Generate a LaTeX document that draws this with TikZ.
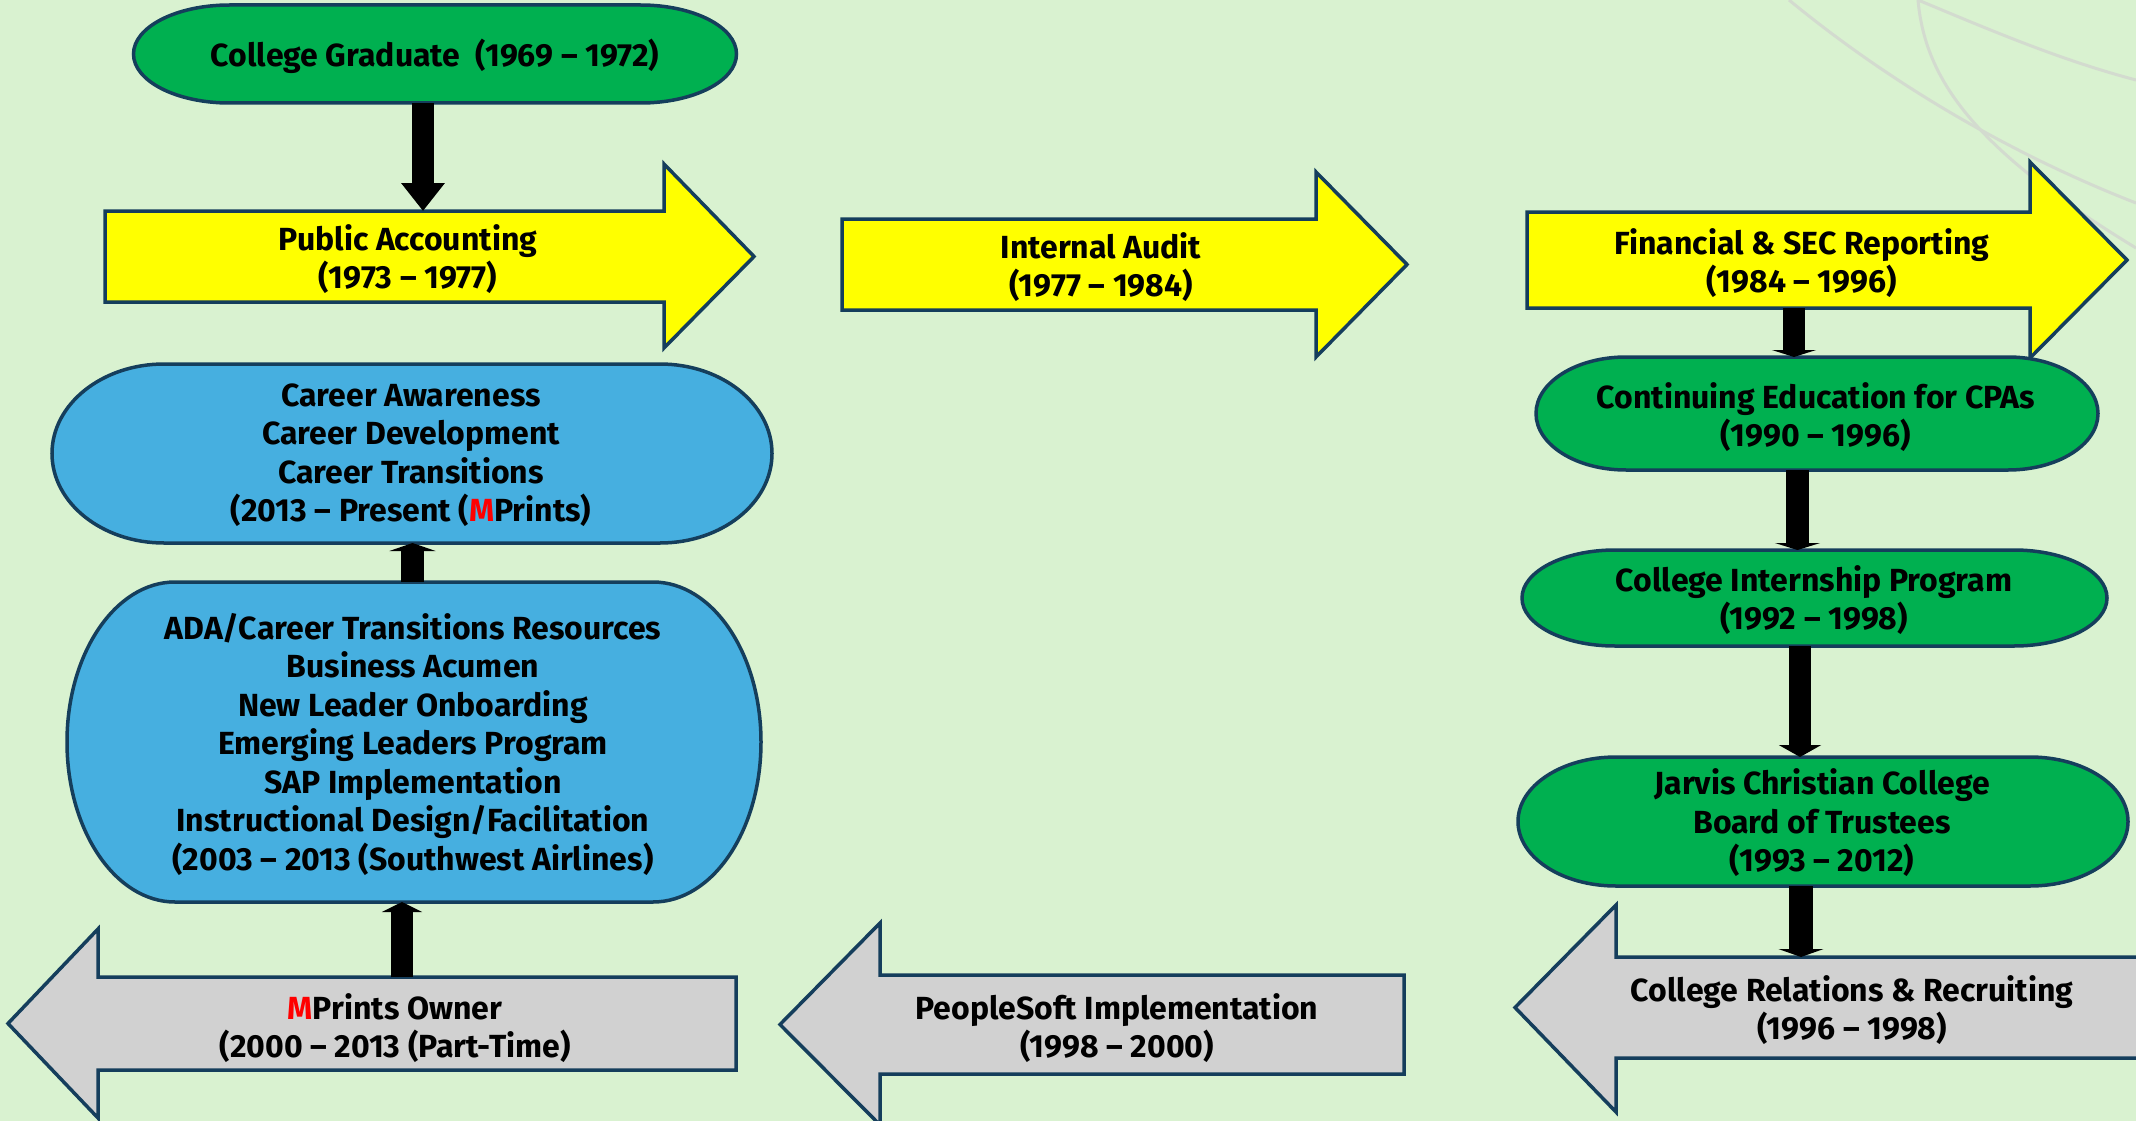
\documentclass[tikz,border=0pt]{standalone}
\usepackage{fontspec}
\setmainfont{Fira Sans}
\usetikzlibrary{arrows.meta,calc}
\definecolor{bgc}{HTML}{D9F2D0}
\definecolor{edgec}{HTML}{153E5C}
\definecolor{grn}{HTML}{00B050}
\definecolor{blu}{HTML}{46AFE0}
\definecolor{yel}{HTML}{FFFF00}
\definecolor{gry}{HTML}{D1D1D1}
\definecolor{arcc}{HTML}{D3DBCF}
\definecolor{mred}{HTML}{FF0000}
\tikzset{
  outline/.style={draw=edgec, line width=3.5pt, line join=miter},
  lbl/.style={align=center, font=\bfseries\fontsize{32}{38.5}\selectfont, inner sep=0pt, text=black, yshift=-2pt},
  shapebox/.style={inner sep=0pt, outer sep=0pt, draw=none},
  conn/.style={draw=black, line width=#1},
  bgarc/.style={draw=arcc, line width=3pt},
}
% stadium (terminator) with elliptical ends
\newcommand{\mystad}[7]{% name cx cy w h rx fill
  \path[outline, fill=#7]
    ({#2-#4/2+#6},{#3-#5/2}) -- ({#2+#4/2-#6},{#3-#5/2})
    .. controls ({#2+#4/2-#6+0.5523*#6},{#3-#5/2}) and ({#2+#4/2},{#3-0.5523*#5/2}) .. ({#2+#4/2},{#3})
    .. controls ({#2+#4/2},{#3+0.5523*#5/2}) and ({#2+#4/2-#6+0.5523*#6},{#3+#5/2}) .. ({#2+#4/2-#6},{#3+#5/2})
    -- ({#2-#4/2+#6},{#3+#5/2})
    .. controls ({#2-#4/2+#6-0.5523*#6},{#3+#5/2}) and ({#2-#4/2},{#3+0.5523*#5/2}) .. ({#2-#4/2},{#3})
    .. controls ({#2-#4/2},{#3-0.5523*#5/2}) and ({#2-#4/2+#6-0.5523*#6},{#3-#5/2}) .. cycle;
  \node[shapebox, minimum width=#4, minimum height=#5] (#1) at (#2,#3) {};
}
% block arrow: name, tail x, top, bottom, head base x, head top, head bottom, tip x, fill
\newcommand{\myblock}[9]{%
  \path[outline, fill=#9]
    (#2,#3) -- (#5,#3) -- (#5,#6) -- (#8,{(#3+#4)/2}) -- (#5,#7) -- (#5,#4) -- (#2,#4) -- cycle;
  \node[shapebox, minimum width={abs(#5-#2)}, minimum height={#4-#3}] (#1) at ({(#2+#5)/2},{(#3+#4)/2}) {};
}
\begin{document}
\begin{tikzpicture}[x=1pt,y=-1pt]
\useasboundingbox (0,0) rectangle (2136,1121);
\clip (0,0) rectangle (2136,1121);
\fill[bgc] (0,0) rectangle (2136,1121);
% background arcs
\draw[bgarc] (1789,0) .. controls (1880,75) and (2000,150) .. (2136,203);
\draw[bgarc] (1918,0) .. controls (1925,80) and (1975,150) .. (2136,248);
\draw[bgarc] (1918,0) .. controls (1990,30) and (2060,60) .. (2136,80);

% shapes
\mystad{cg}{435}{54}{603}{98}{96}{grn}
\myblock{pa}{105}{211}{302}{664}{164}{348}{754}{yel}
\myblock{ia}{842}{219}{310}{1316}{172}{357}{1407}{yel}
\myblock{fsr}{1527}{212}{308}{2030}{162}{358}{2127}{yel}
\mystad{ca}{412}{453.5}{720}{179}{112}{blu}
\mystad{ada}{414}{742}{694}{320}{108}{blu}
\myblock{mp}{736}{977}{1070}{98}{929}{1118}{8}{gry}
\myblock{ps}{1404}{975}{1074}{880}{923}{1125}{780}{gry}
\myblock{cr}{2200}{957}{1058}{1616}{905}{1112}{1515}{gry}
\mystad{ce}{1817}{413.5}{562}{113}{90}{grn}
\mystad{ci}{1814.5}{598}{585}{96}{93}{grn}
\mystad{jc}{1823}{821.5}{610}{129}{98}{grn}

% labels
\node[lbl] (cgT) at (435,54) {College Graduate\ \ (1969 – 1972)};
\node[lbl] (paT) at (408,257) {Public Accounting\\(1973 – 1977)};
\node[lbl] (iaT) at (1101,265) {Internal Audit\\(1977 – 1984)};
\node[lbl] (fsrT) at (1802,261) {Financial \& SEC Reporting\\(1984 – 1996)};
\node[lbl] (caT) at (411,453) {Career Awareness\\Career Development\\Career Transitions\\(2013 – Present (\textcolor{mred}{M}Prints)};
\node[lbl] (adaT) at (413,742) {ADA/Career Transitions Resources\\Business Acumen\\New Leader Onboarding\\Emerging Leaders Program\\SAP Implementation\\Instructional Design/Facilitation\\(2003 – 2013 (Southwest Airlines)};
\node[lbl] (mpT) at (395,1026) {\textcolor{mred}{M}Prints Owner\\(2000 – 2013 (Part-Time)};
\node[lbl] (psT) at (1117,1026) {PeopleSoft Implementation\\(1998 – 2000)};
\node[lbl] (crT) at (1852,1008) {College Relations \& Recruiting\\(1996 – 1998)};
\node[lbl] (ceT) at (1816,415) {Continuing Education for CPAs\\(1990 – 1996)};
\node[lbl] (ciT) at (1814,598) {College Internship Program\\(1992 – 1998)};
\node[lbl] (jcT) at (1822,821) {Jarvis Christian College\\Board of Trustees\\(1993 – 2012)};

% connectors
\draw[conn=22pt, -{Triangle[width=42pt,length=28pt]}] ([xshift=-12pt]cg.south) -- ([xshift=38.5pt]pa.north);
\draw[conn=22pt, -{Triangle[width=40pt,length=10pt]}] ([xshift=-15pt]mp.north) -- ([xshift=-12pt]ada.south);
\draw[conn=23pt, -{Triangle[width=46pt,length=8pt]}] ([xshift=-1.5pt]ada.north) -- ([xshift=0.5pt]ca.south);
\draw[conn=22pt, -{Triangle[width=44pt,length=7pt]}] ([xshift=15.5pt]fsr.south) -- ([xshift=-23pt]ce.north);
\draw[conn=23pt, -{Triangle[width=45pt,length=7pt]}] ([xshift=-19.5pt]ce.south) -- ([xshift=-17pt]ci.north);
\draw[conn=22pt, -{Triangle[width=42pt,length=12pt]}] ([xshift=-14.5pt]ci.south) -- ([xshift=-23pt]jc.north);
\draw[conn=24pt, -{Triangle[width=45pt,length=8pt]}] ([xshift=-22pt]jc.south) -- ([xshift=-107pt]cr.north);
\end{tikzpicture}
\end{document}
